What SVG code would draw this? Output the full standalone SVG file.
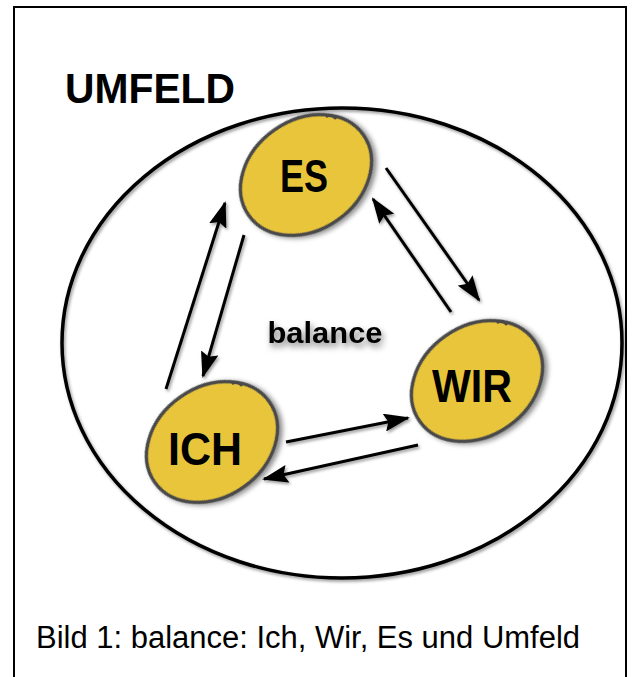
<svg xmlns="http://www.w3.org/2000/svg" width="635" height="677" viewBox="0 0 635 677">
<style>
.frame{fill:#fff;stroke:#000;stroke-width:2}
.world{fill:none;stroke:#000;stroke-width:3.5}
.node{fill:#E9C53B;stroke:#4a4a4a;stroke-width:3.5}
.notch{fill:none;stroke:#4a4a4a;stroke-width:2.5}
.lbl{font-family:"Liberation Sans",Arial,sans-serif;font-weight:bold;fill:#000;text-anchor:middle}
.conn{stroke:#000;stroke-width:3;fill:none;marker-end:url(#ah)}
.cap{font-family:"Liberation Sans",Arial,sans-serif;fill:#000}
</style>
<defs>
<marker id="ah" markerUnits="userSpaceOnUse" markerWidth="26" markerHeight="18" refX="24" refY="9" orient="auto">
<path d="M0,0 L26,9 L0,18 L4,9 Z" fill="#000"/>
</marker>
<filter id="sh" x="-20%" y="-20%" width="140%" height="140%">
<feDropShadow dx="2" dy="3" stdDeviation="2.5" flood-color="#000" flood-opacity="0.45"/>
</filter>
<filter id="shs" x="-20%" y="-20%" width="140%" height="140%">
<feDropShadow dx="1.5" dy="2" stdDeviation="1.5" flood-color="#000" flood-opacity="0.4"/>
</filter>
<filter id="tsh" x="-20%" y="-40%" width="140%" height="180%">
<feDropShadow dx="2" dy="4" stdDeviation="3" flood-color="#000" flood-opacity="0.5"/>
</filter>
</defs>
<rect class="frame" x="14" y="7" width="612" height="690"/>
<g id="umfeld">
<ellipse class="world" cx="342" cy="343" rx="280" ry="235" filter="url(#shs)"/>
<text class="lbl" x="150" y="103" font-size="42" textLength="170" lengthAdjust="spacingAndGlyphs">UMFELD</text>
</g>
<g id="connectors" filter="url(#shs)">
<line class="conn" x1="166" y1="389" x2="225" y2="203"/>
<line class="conn" x1="244" y1="235" x2="203" y2="376"/>
<line class="conn" x1="386" y1="168" x2="479" y2="300"/>
<line class="conn" x1="451" y1="312" x2="373" y2="199"/>
<line class="conn" x1="286" y1="442" x2="408" y2="418"/>
<line class="conn" x1="418" y1="445" x2="264" y2="479"/>
</g>
<g id="es">
<ellipse class="node" cx="306" cy="175" rx="70" ry="55" transform="rotate(-35 306 175)" filter="url(#sh)"/>
<path class="notch" d="M326,117 q5,-4 10,2"/>
<text class="lbl" x="304" y="192" font-size="46" textLength="48" lengthAdjust="spacingAndGlyphs">ES</text>
</g>
<g id="wir">
<ellipse class="node" cx="477" cy="381" rx="70" ry="55" transform="rotate(-35 477 381)" filter="url(#sh)"/>
<path class="notch" d="M497,323 q5,-4 10,2"/>
<text class="lbl" x="472" y="402" font-size="46" textLength="80" lengthAdjust="spacingAndGlyphs">WIR</text>
</g>
<g id="ich">
<ellipse class="node" cx="212" cy="442" rx="70" ry="55" transform="rotate(-35 212 442)" filter="url(#sh)"/>
<path class="notch" d="M232,384 q5,-4 10,2"/>
<text class="lbl" x="205" y="465" font-size="46" textLength="74" lengthAdjust="spacingAndGlyphs">ICH</text>
</g>
<g id="balance">
<text class="lbl" x="325" y="343" font-size="30" textLength="115" lengthAdjust="spacingAndGlyphs" filter="url(#tsh)">balance</text>
</g>
<text class="cap" x="36" y="648" font-size="31" textLength="544" lengthAdjust="spacingAndGlyphs">Bild 1: balance: Ich, Wir, Es und Umfeld</text>
</svg>
